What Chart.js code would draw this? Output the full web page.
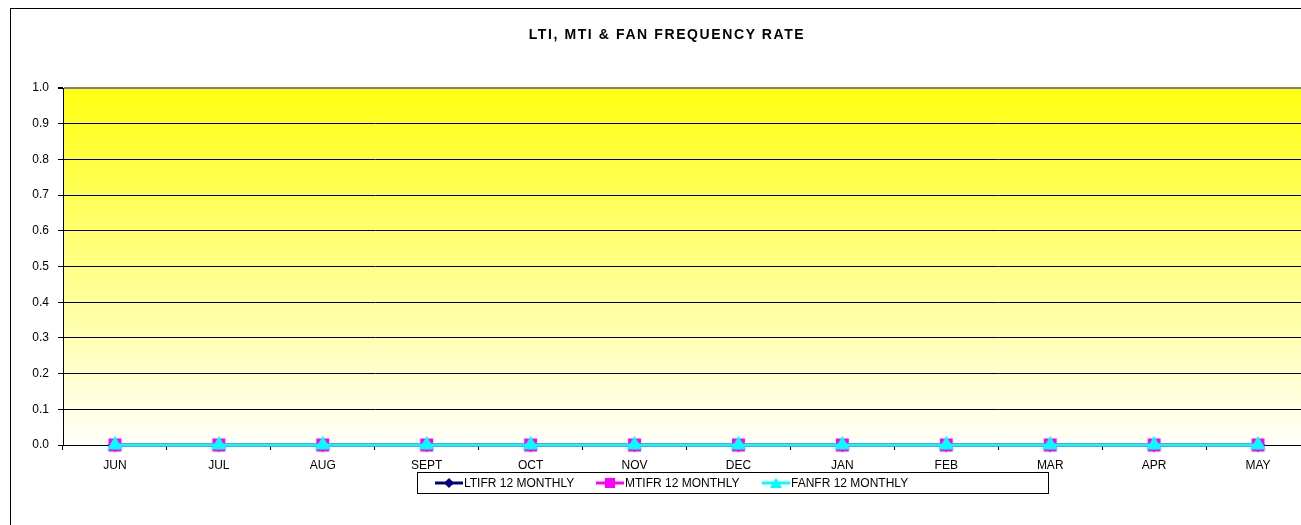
<!DOCTYPE html>
<html lang="en">
<head>
    <meta charset="UTF-8">
    <title>LTI, MTI & FAN Frequency Rate</title>
    <script src="https://cdn.jsdelivr.net/npm/chart.js"></script>
    <style>
        html, body { margin: 0; padding: 0; background: #fff; overflow: hidden; }
        #frame {
            position: absolute;
            left: 10px;
            top: 8px;
            width: 1320px;
            height: 530px;
            border: 1px solid #000;
            background: #fff;
        }
        #chart { position: absolute; left: 0; top: 0; }
        #title {
            position: absolute;
            left: 0;
            top: 17px;
            width: 1312px;
            text-align: center;
            font-family: "Liberation Sans", Arial, sans-serif;
            font-weight: bold;
            font-size: 14px;
            letter-spacing: 1.6px;
            line-height: 16px;
            color: #000;
        }
        #legend {
            position: absolute;
            left: 406px;
            top: 463px;
            width: 630px;
            height: 20px;
            border: 1px solid #000;
            font-family: "Liberation Sans", Arial, sans-serif;
            font-size: 12px;
            color: #000;
        }
        .item { position: absolute; top: 0; height: 20px; line-height: 20px; white-space: nowrap; }
        .item svg { position: absolute; left: 0; top: 4px; }
        .item span { position: absolute; left: 30px; }
    </style>
</head>
<body>
<div id="frame">
    <canvas id="chart" width="1320" height="520"></canvas>
    <div id="title">LTI, MTI &amp; FAN FREQUENCY RATE</div>
    <div id="legend">
        <div class="item" style="left:16px">
            <svg width="30" height="12"><line x1="1" y1="6" x2="29" y2="6" stroke="#000080" stroke-width="3"/><polygon points="15,1 20,6 15,11 10,6" fill="#000080"/></svg>
            <span>LTIFR 12 MONTHLY</span>
        </div>
        <div class="item" style="left:177px">
            <svg width="30" height="12"><line x1="1" y1="6" x2="29" y2="6" stroke="#ff00ff" stroke-width="3"/><rect x="10" y="1" width="10" height="10" fill="#ff00ff"/></svg>
            <span>MTIFR 12 MONTHLY</span>
        </div>
        <div class="item" style="left:343px">
            <svg width="30" height="12"><line x1="1" y1="6" x2="29" y2="6" stroke="#00ffff" stroke-width="3"/><polygon points="15,1 21,11 9,11" fill="#00ffff"/></svg>
            <span>FANFR 12 MONTHLY</span>
        </div>
    </div>
</div>

<script>
    let months = ["JUN", "JUL", "AUG", "SEPT", "OCT", "NOV", "DEC", "JAN", "FEB", "MAR", "APR", "MAY"];
    let ltifr = [0, 0, 0, 0, 0, 0, 0, 0, 0, 0, 0, 0];
    let mtifr = [0, 0, 0, 0, 0, 0, 0, 0, 0, 0, 0, 0];
    let fanfr = [0, 0, 0, 0, 0, 0, 0, 0, 0, 0, 0, 0];
    let yMin = 0;
    let yMax = 1;
    let yStep = 0.1;

    // yellow-to-white fill behind the plot area
    const plotBg = {
        id: 'plotBg',
        beforeDraw(chart) {
            let a = chart.chartArea;
            let ctx = chart.ctx;
            let g = ctx.createLinearGradient(0, a.top, 0, a.bottom);
            g.addColorStop(0, '#ffff10');
            g.addColorStop(1, '#fffffb');
            ctx.save();
            ctx.fillStyle = g;
            ctx.fillRect(a.left, a.top, a.right - a.left, a.bottom - a.top);
            ctx.restore();
        }
    };

    const font = { family: '"Liberation Sans", Arial, sans-serif', size: 12 };

    let ctx = document.getElementById('chart').getContext('2d');
    let myChart = new Chart(ctx, {
        type: 'line',
        data: {
            labels: months,
            datasets: [{
                label: 'LTIFR 12 MONTHLY',
                data: ltifr,
                borderColor: '#000080',
                backgroundColor: '#000080',
                borderWidth: 3,
                pointStyle: 'rectRot',
                pointRadius: 5,
                order: 2,
                clip: false
            }, {
                label: 'MTIFR 12 MONTHLY',
                data: mtifr,
                borderColor: '#ff00ff',
                backgroundColor: '#ff00ff',
                borderWidth: 3,
                pointStyle: 'rect',
                pointRadius: 7,
                order: 1,
                clip: false
            }, {
                label: 'FANFR 12 MONTHLY',
                data: fanfr,
                borderColor: '#00ffff',
                backgroundColor: '#00ffff',
                borderWidth: 3,
                pointStyle: 'triangle',
                pointRadius: 6,
                order: 0,
                clip: false
            }]
        },
        options: {
            responsive: false,
            animation: false,
            layout: { padding: { left: 0, right: 21, top: 79, bottom: 24 } },
            plugins: {
                legend: { display: false },
                tooltip: { enabled: false },
                title: { display: false }
            },
            scales: {
                x: {
                    offset: true,
                    grid: {
                        offset: true,
                        drawOnChartArea: false,
                        drawTicks: true,
                        tickLength: 5,
                        color: '#000'
                    },
                    border: { display: true, color: '#000', width: 1 },
                    ticks: { color: '#000', font: font, padding: 8, maxRotation: 0, autoSkip: false },
                    afterFit(scale) { scale.height = 60; }
                },
                y: {
                    min: yMin,
                    max: yMax,
                    grid: {
                        color: c => c.tick && c.tick.value === yMax ? '#808080' : '#000',
                        lineWidth: c => c.tick && c.tick.value === yMax ? 2 : 1,
                        tickLength: 5,
                        tickColor: '#000'
                    },
                    border: { display: true, color: '#000', width: 1 },
                    ticks: {
                        stepSize: yStep,
                        color: '#000',
                        font: font,
                        padding: 9,
                        callback: v => v.toFixed(1)
                    },
                    afterFit(scale) { scale.width = 52; }
                }
            }
        },
        plugins: [plotBg]
    });
</script>
</body>
</html>
